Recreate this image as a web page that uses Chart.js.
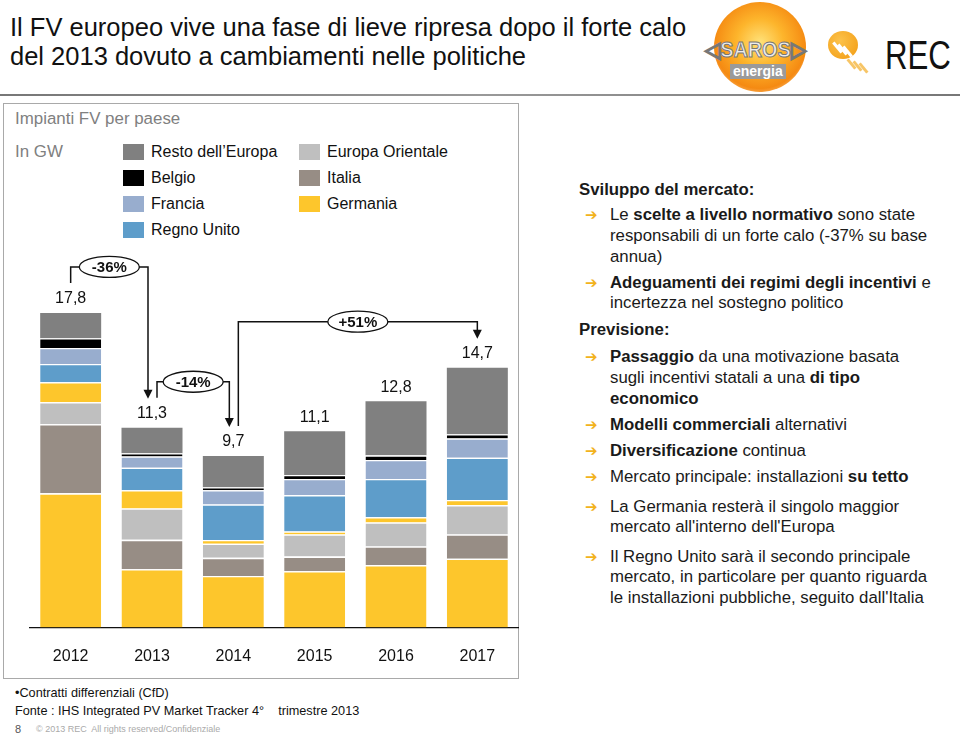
<!DOCTYPE html>
<html><head><meta charset="utf-8">
<script src="https://cdn.jsdelivr.net/npm/chart.js@4/dist/chart.umd.min.js"></script>
<style>
body{margin:0;width:960px;height:737px;position:relative;font-family:"Liberation Sans",Arial,sans-serif;background:#fff;overflow:hidden;color:#111}
.a{position:absolute;white-space:nowrap}
.t{font-size:16.8px;line-height:20px;color:#1a1a1a}
.arr{font-family:"DejaVu Sans";color:#F2B31C;font-size:15px;line-height:20px;font-weight:bold}
.sw{position:absolute;width:21px;height:16px}
.lg{position:absolute;font-size:16px;line-height:18px;color:#111;white-space:nowrap}
</style></head><body>

<div class="a" style="left:10px;top:13px;font-size:25.5px;line-height:29px;color:#111">Il FV europeo vive una fase di lieve ripresa dopo il forte calo<br>del 2013 dovuto a cambiamenti nelle politiche</div>

<!-- logos -->
<div class="a" style="left:714px;top:2px;width:92px;height:90px;border-radius:50%;background:radial-gradient(circle at 50% 45%,#FFE27A 0%,#FDB52C 35%,#F58A12 68%,rgba(245,120,10,0) 100%)"></div>
<div class="a" style="left:705px;top:37px;font-size:22px;line-height:26px;color:#ececec;font-weight:bold;-webkit-text-stroke:1px #777;transform:scaleX(0.9);transform-origin:0 0">◁SAROS▷</div>
<div class="a" style="left:730px;top:64px;font-size:14px;line-height:15px;color:#fff;font-weight:bold;background:#9a9a9a;padding:0 3px">energia</div>
<div class="a" style="left:828px;top:31px;width:30px;height:28px;border-radius:50%;background:radial-gradient(circle at 40% 35%,#FCC24A,#F29A10)"></div>
<div class="a" style="left:836px;top:41px;width:3px;height:13px;background:#fff;transform:rotate(-40deg)"></div>
<div class="a" style="left:841px;top:43px;width:3px;height:13px;background:#fff;transform:rotate(-40deg)"></div>
<div class="a" style="left:846px;top:45px;width:3px;height:13px;background:#fff;transform:rotate(-40deg)"></div>
<div class="a" style="left:850px;top:58px;width:3px;height:12px;background:#F7C566;transform:rotate(-40deg)"></div>
<div class="a" style="left:856px;top:60px;width:3px;height:12px;background:#F7C566;transform:rotate(-40deg)"></div>
<div class="a" style="left:862px;top:62px;width:3px;height:12px;background:#F7C566;transform:rotate(-40deg)"></div>
<div class="a" style="left:885px;top:35px;font-size:40px;line-height:40px;color:#111;transform:scaleX(0.78);transform-origin:0 0">REC</div>

<div class="a" style="left:0;top:94px;width:960px;height:2px;background:linear-gradient(to right,#777,#999 50%,#777)"></div>

<!-- chart box -->
<div class="a" style="left:3px;top:103px;width:514px;height:574px;border:1.5px solid #a9a9a9"></div>
<div class="a" style="left:15px;top:110px;font-size:16.9px;line-height:18px;color:#808080">Impianti FV per paese</div>
<div class="a" style="left:15px;top:143px;font-size:16.9px;line-height:18px;color:#808080">In GW</div>

<div id="legend"></div>

<div class="a" style="left:0;top:240px;width:530px;height:440px"><canvas id="c" width="530" height="440"></canvas></div>

<!-- right text -->
<div id="txt"></div>

<!-- footer -->
<div class="a" style="left:15px;top:685px;font-size:12.7px;line-height:16px;color:#111">•Contratti differenziali (CfD)</div>
<div class="a" style="left:15px;top:703px;font-size:12.7px;line-height:16px;color:#111">Fonte : IHS Integrated PV Market Tracker 4°&nbsp;&nbsp;&nbsp; trimestre 2013</div>
<div class="a" style="left:15px;top:723px;font-size:11px;line-height:12px;color:#555">8</div>
<div class="a" style="left:36px;top:724px;font-size:9px;line-height:11px;color:#aaa">© 2013 REC&nbsp; All rights reserved/Confidenziale</div>

<script>
const years = ['2012','2013','2014','2015','2016','2017'];
const totals = [17.8, 11.3, 9.7, 11.1, 12.8, 14.7];
const totalLabels = ['17,8','11,3','9,7','11,1','12,8','14,7'];
const germania = [7.59, 3.30, 2.92, 3.18, 3.53, 3.89];
const italia = [3.91, 1.66, 1.02, 0.83, 1.05, 1.37];
const europaOrientale = [1.24, 1.77, 0.80, 1.25, 1.36, 1.66];
const altro = [1.14, 1.04, 0.21, 0.17, 0.30, 0.29];
const regnoUnito = [1.03, 1.27, 2.01, 2.06, 2.16, 2.40];
const francia = [0.90, 0.64, 0.81, 0.91, 1.08, 1.08];
const belgio = [0.56, 0.18, 0.17, 0.23, 0.26, 0.25];
const restoEuropa = [1.43, 1.44, 1.76, 2.47, 3.06, 3.76];
const changeLabels = ['-36%', '-14%', '+51%'];
const changeFrom = [0, 1, 2];
const changeTo = [1, 2, 5];

const C = {resto:'#808080', belgio:'#000000', francia:'#98ADCE', uk:'#5E9DCA', yellow:'#FDC62C', est:'#BFBFBF', italia:'#978D85'};

// legend (HTML)
const legendItems = [
  ['Resto dell\u2019Europa', C.resto, 123, 152],
  ['Belgio', C.belgio, 123, 178],
  ['Francia', C.francia, 123, 204],
  ['Regno Unito', C.uk, 123, 230],
  ['Europa Orientale', C.est, 299, 152],
  ['Italia', C.italia, 299, 178],
  ['Germania', C.yellow, 299, 204]
];
let lh = '';
legendItems.forEach(([t,c,x,y]) => {
  lh += `<div class="sw" style="left:${x}px;top:${y-8}px;background:${c}"></div>`;
  lh += `<div class="lg" style="left:${x+28}px;top:${y-9}px">${t}</div>`;
});
document.getElementById('legend').innerHTML = lh;

// right text
const lines = [
  [0,190,'<b>Sviluppo del mercato:</b>'],
  [1,215,'Le <b>scelte a livello normativo</b> sono state'],
  [2,236,'responsabili di un forte calo (-37% su base'],
  [2,257,'annua)'],
  [1,283,'<b>Adeguamenti dei regimi degli incentivi</b> e'],
  [2,303,'incertezza nel sostegno politico'],
  [0,330,'<b>Previsione:</b>'],
  [1,357,'<b>Passaggio</b> da una motivazione basata'],
  [2,378,'sugli incentivi statali a una <b>di tipo</b>'],
  [2,399,'<b>economico</b>'],
  [1,425,'<b>Modelli commerciali</b> alternativi'],
  [1,451,'<b>Diversificazione</b> continua'],
  [1,477,'Mercato principale: installazioni <b>su tetto</b>'],
  [1,507,'La Germania resterà il singolo maggior'],
  [2,527,'mercato all\'interno dell\'Europa'],
  [1,557,'Il Regno Unito sarà il secondo principale'],
  [2,577,'mercato, in particolare per quanto riguarda'],
  [2,598,'le installazioni pubbliche, seguito dall\'Italia']
];
let th = '';
lines.forEach(([k,y,t]) => {
  if (k === 0) th += `<div class="a t" style="left:579px;top:${y-10}px">${t}</div>`;
  else {
    if (k === 1) th += `<div class="a arr" style="left:585px;top:${y-10}px">➔</div>`;
    th += `<div class="a t" style="left:610px;top:${y-10}px">${t}</div>`;
  }
});
document.getElementById('txt').innerHTML = th;

const overlay = {
  id: 'overlay',
  afterDatasetsDraw(chart) {
    const ctx = chart.ctx, xs = chart.scales.x, ys = chart.scales.y;
    const X = i => xs.getPixelForValue(i);
    const Y = i => ys.getPixelForValue(totals[i]);
    ctx.save();
    ctx.fillStyle = '#111';
    ctx.font = '16px "Liberation Sans", Arial, sans-serif';
    ctx.textAlign = 'center'; ctx.textBaseline = 'middle';
    totals.forEach((v,i) => ctx.fillText(totalLabels[i], X(i), Y(i) - 14));
    const hasOut = new Set(changeFrom), hasIn = new Set(changeTo);
    changeLabels.forEach((lab, k) => {
      const a = changeFrom[k], b = changeTo[k];
      const x1 = X(a) + (hasIn.has(a) ? 5 : 0);
      const x2 = X(b) - (hasOut.has(b) ? 4 : 0);
      const y1 = Y(a) - 30, y2 = Y(b) - 29;
      const yh = Math.min(Y(a), Y(b)) - 46;
      ctx.strokeStyle = '#111'; ctx.lineWidth = 1.5;
      ctx.beginPath();
      ctx.moveTo(x1, y1); ctx.lineTo(x1, yh); ctx.lineTo(x2, yh); ctx.lineTo(x2, y2 - 8);
      ctx.stroke();
      ctx.fillStyle = '#111';
      ctx.beginPath();
      ctx.moveTo(x2 - 4.5, y2 - 9); ctx.lineTo(x2 + 4.5, y2 - 9); ctx.lineTo(x2, y2); ctx.closePath();
      ctx.fill();
      const cx = (x1 + x2) / 2;
      ctx.beginPath();
      ctx.ellipse(cx, yh, 30, 10.5, 0, 0, Math.PI * 2);
      ctx.fillStyle = '#fff'; ctx.fill();
      ctx.lineWidth = 1.3; ctx.stroke();
      ctx.fillStyle = '#111';
      ctx.font = 'bold 15px "Liberation Sans", Arial, sans-serif';
      ctx.fillText(lab, cx, yh + 1);
    });
    ctx.restore();
  }
};

function ds(label, data, color, top) {
  return {label, data, backgroundColor: color, borderColor: '#ffffff',
    borderWidth: top ? 0 : {top: 1.3, bottom: 0, left: 0, right: 0}, borderSkipped: 'start',
    barPercentage: 0.75, categoryPercentage: 1};
}

new Chart(document.getElementById('c'), {
  type: 'bar',
  data: {
    labels: years,
    datasets: [
      ds('Germania', germania, C.yellow),
      ds('Italia', italia, C.italia),
      ds('Europa Orientale', europaOrientale, C.est),
      ds('Altro', altro, C.yellow),
      ds('Regno Unito', regnoUnito, C.uk),
      ds('Francia', francia, C.francia),
      ds('Belgio', belgio, C.belgio),
      ds('Resto dell\u2019Europa', restoEuropa, C.resto, true)
    ]
  },
  options: {
    responsive: false, animation: false,
    layout: {padding: {left: 30, right: 12, top: 34, bottom: 0}},
    plugins: {legend: {display: false}, tooltip: {enabled: false}},
    scales: {
      x: {stacked: true, grid: {display: false, drawTicks: false},
          border: {display: true, color: '#111', width: 1.3},
          ticks: {color: '#111', font: {size: 16, family: '"Liberation Sans", Arial, sans-serif'}, padding: 19},
          afterFit: s => { s.height = 52.5; }},
      y: {stacked: true, display: false, min: 0, max: 20}
    }
  },
  plugins: [overlay]
});
</script>
</body></html>
